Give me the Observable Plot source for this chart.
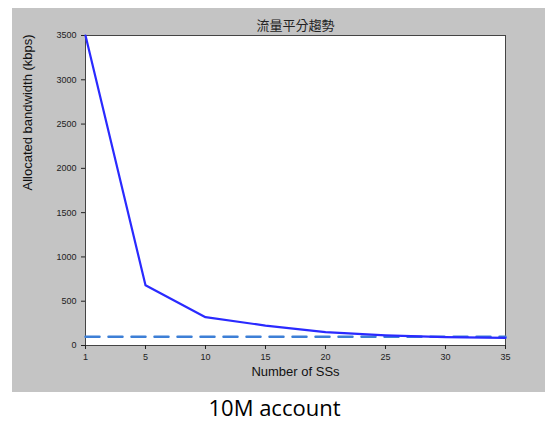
<!DOCTYPE html>
<html>
<head>
<meta charset="utf-8">
<script src="https://cdn.jsdelivr.net/npm/d3@7"></script>
<script src="https://cdn.jsdelivr.net/npm/@observablehq/plot@0.6"></script>
<style>
  body { margin: 0; background: #fff; width: 549px; height: 425px; position: relative; overflow: hidden; }
  #fig { position: absolute; left: 12px; top: 8px; width: 533px; height: 384px; background: #c4c4c4; }
  #fig svg { display: block; }
  #cap { position: absolute; left: 0; width: 549px; top: 392px; text-align: center; font-family: "Open Sans", "Liberation Sans", sans-serif; font-size: 22px; color: #000; }
</style>
</head>
<body>
<div id="fig"></div>
<div id="cap">10M account</div>
<script>
const title = "流量平分趨勢";
const xLabels = ["1", "5", "10", "15", "20", "25", "30", "35"];
const allocated = [3500, 680, 320, 225, 150, 115, 95, 85];
const reference = [100, 100, 100, 100, 100, 100, 100, 100];
const yTicks = [0, 500, 1000, 1500, 2000, 2500, 3000, 3500];

const solid = xLabels.map((x, i) => ({x, y: allocated[i]}));
const dashed = xLabels.map((x, i) => ({x, y: reference[i]}));

const chart = Plot.plot({
  width: 533,
  height: 384,
  marginLeft: 73,
  marginRight: 40,
  marginTop: 27,
  marginBottom: 47,
  style: {background: "transparent", fontFamily: "'Liberation Sans', sans-serif", fontSize: "9px", color: "#222"},
  x: {type: "point", domain: xLabels, padding: 0},
  y: {domain: [0, 3500]},
  marks: [
    Plot.frame({fill: "white", stroke: "#444"}),
    Plot.axisX({ticks: xLabels, tickSize: 4, tickPadding: 4, label: null}),
    Plot.axisY({ticks: yTicks, tickSize: 4, tickFormat: d3.format("d"), label: null}),
    Plot.lineY(dashed, {x: "x", y: "y", stroke: "#3d7fd6", strokeWidth: 2.5, strokeDasharray: "14,9"}),
    Plot.lineY(solid, {x: "x", y: "y", stroke: "#2a2aff", strokeWidth: 2.2}),
    Plot.text([title], {frameAnchor: "top", dy: -15, fontSize: 13, fill: "#222", fontFamily: "'Noto Sans CJK TC', sans-serif", text: d => d}),
    Plot.text(["Number of SSs"], {frameAnchor: "bottom", dy: 30, fontSize: 13, fill: "#111", text: d => d}),
    Plot.text(["Allocated bandwidth (kbps)"], {frameAnchor: "left", dx: -58, rotate: -90, fontSize: 13, fill: "#111", text: d => d})
  ]
});
document.getElementById("fig").appendChild(chart);
</script>
</body>
</html>
